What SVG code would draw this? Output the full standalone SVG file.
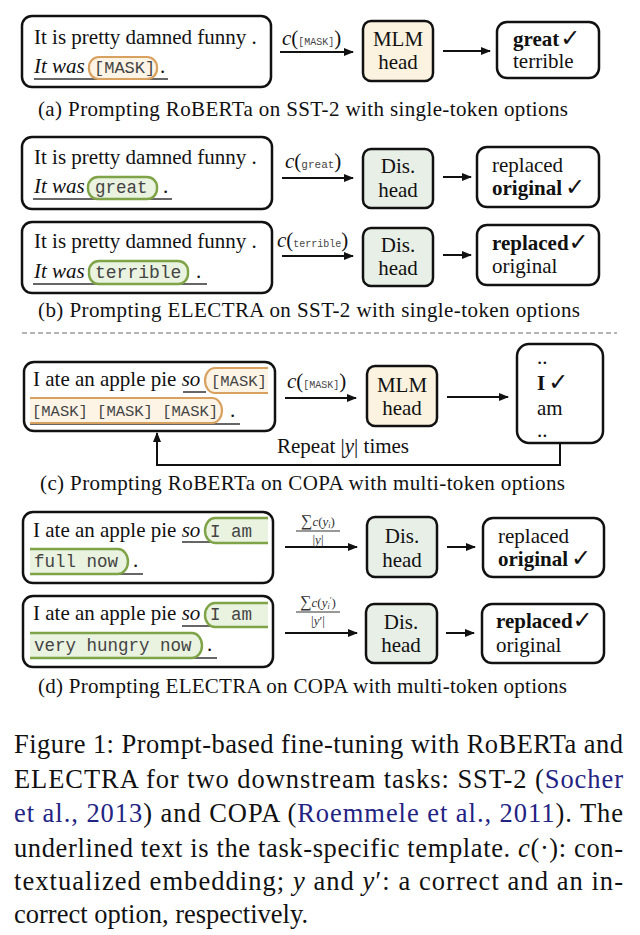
<svg xmlns="http://www.w3.org/2000/svg" width="640" height="935" viewBox="0 0 640 935">
<defs>
<marker id="ah" markerWidth="10" markerHeight="8" refX="9" refY="4" orient="auto" markerUnits="userSpaceOnUse">
<path d="M0,0 L10,4 L0,8 z" fill="#111"/>
</marker>
<style>
.t{font-family:"Liberation Serif",serif;font-size:21px;fill:#111}
.i{font-style:italic}
.b{font-weight:bold}
.m{font-family:"Liberation Mono",monospace;fill:#444}
.chk{font-family:"DejaVu Sans",sans-serif;font-weight:normal;font-size:24px}
.box{fill:#fff;stroke:#111;stroke-width:2.5}
.mlm{fill:#fbf3df;stroke:#111;stroke-width:2.5}
.dis{fill:#e8efe6;stroke:#111;stroke-width:2.5}
.po{fill:#fdf4e6;stroke:#d9a160;stroke-width:2.2}
.pg{fill:#eaf2e0;stroke:#7ea447;stroke-width:2.4}
.ul{stroke:#333;stroke-width:1.5;fill:none}
.arr{stroke:#111;stroke-width:2;fill:none;marker-end:url(#ah)}
.fr{font-family:"Liberation Serif",serif;font-size:13px;fill:#333}
.cap{font-family:"Liberation Serif",serif;font-size:26.5px;fill:#111}
.cite{fill:#232383}
</style>
</defs>
<rect width="640" height="935" fill="#fff"/>

<!-- Panel (a) -->
<g id="a-input">
<rect class="box" x="22" y="16" width="249" height="71" rx="10"/>
<text class="t" x="34" y="44">It is pretty damned funny .</text>
<line class="ul" x1="34" y1="79" x2="168" y2="79"/>
<rect class="po" x="89" y="57" width="68" height="22" rx="10"/>
<text class="t i" x="34" y="73">It was</text>
<text class="m" x="94" y="73" font-size="17">[MASK]</text>
<text class="t" x="160" y="73">.</text>
</g>
<g id="a-mlm">
<rect class="mlm" x="363" y="21" width="70" height="60" rx="8"/>
<text class="t" x="398" y="46" text-anchor="middle">MLM</text>
<text class="t" x="398" y="69" text-anchor="middle">head</text>
</g>
<g id="a-out">
<rect class="box" x="497" y="22" width="102" height="56" rx="10"/>
<text class="t" x="513" y="46"><tspan class="b">great</tspan><tspan class="chk" dx="1">✓</tspan></text>
<text class="t" x="513" y="68">terrible</text>
</g>
<text class="t" x="38" y="116" textLength="530">(a) Prompting RoBERTa on SST-2 with single-token options</text>

<!-- Panel (b) -->
<g id="b-input1">
<rect class="box" x="22" y="137" width="250" height="72" rx="10"/>
<text class="t" x="34" y="164">It is pretty damned funny .</text>
<line class="ul" x1="33" y1="199" x2="172" y2="199"/>
<rect class="pg" x="88" y="177" width="69" height="22" rx="10"/>
<text class="t i" x="34" y="193">It was</text>
<text class="m" x="95" y="193" font-size="17.5">great</text>
<text class="t" x="163" y="193">.</text>
</g>
<g id="b-dis1">
<rect class="dis" x="363" y="149" width="70" height="59" rx="8"/>
<text class="t" x="398" y="173" text-anchor="middle">Dis.</text>
<text class="t" x="398" y="197" text-anchor="middle">head</text>
</g>
<g id="b-out1">
<rect class="box" x="477" y="147" width="122" height="60" rx="10"/>
<text class="t" x="492" y="172">replaced</text>
<text class="t" x="492" y="195"><tspan class="b">original</tspan><tspan class="chk" dx="3">✓</tspan></text>
</g>
<g id="b-input2">
<rect class="box" x="22" y="222" width="250" height="71" rx="10"/>
<text class="t" x="34" y="248">It is pretty damned funny .</text>
<line class="ul" x1="33" y1="284" x2="207" y2="284"/>
<rect class="pg" x="89" y="261" width="99" height="23" rx="10"/>
<text class="t i" x="34" y="278">It was</text>
<text class="m" x="95" y="278" font-size="18">terrible</text>
<text class="t" x="196" y="278">.</text>
</g>
<g id="b-dis2">
<rect class="dis" x="363" y="228" width="70" height="58" rx="8"/>
<text class="t" x="398" y="252" text-anchor="middle">Dis.</text>
<text class="t" x="398" y="275" text-anchor="middle">head</text>
</g>
<g id="b-out2">
<rect class="box" x="477" y="225" width="122" height="60" rx="10"/>
<text class="t" x="492" y="250"><tspan class="b">replaced</tspan><tspan class="chk" dx="0">✓</tspan></text>
<text class="t" x="492" y="273">original</text>
</g>
<text class="t" x="38" y="317" textLength="542">(b) Prompting ELECTRA on SST-2 with single-token options</text>

<line x1="22" y1="333" x2="617" y2="333" stroke="#9a9a9a" stroke-width="1.5" stroke-dasharray="5 3"/>

<!-- Panel (c) -->
<g id="c-input">
<rect class="box" x="24" y="362" width="251" height="69" rx="10"/>
<line class="ul" x1="183" y1="392" x2="206" y2="392"/>
<line class="ul" x1="30" y1="424" x2="240" y2="424"/>
<path class="po" d="M268,368 H215 a10,12.5 0 0 0 0,25 H268"/>
<path class="po" d="M30,398 H212 a10,12.5 0 0 1 0,25 H30"/>
<text class="t" x="33" y="386">I ate an apple pie <tspan class="i">so</tspan></text>
<text class="m" x="211" y="386" font-size="15.5">[MASK]</text>
<text class="m" x="32" y="416" font-size="15.5">[MASK] [MASK] [MASK]</text>
<text class="t" x="230" y="417">.</text>
</g>
<g id="c-mlm">
<rect class="mlm" x="367" y="366" width="70" height="60" rx="8"/>
<text class="t" x="402" y="392" text-anchor="middle">MLM</text>
<text class="t" x="402" y="415" text-anchor="middle">head</text>
</g>
<g id="c-out">
<rect class="box" x="517" y="344" width="86" height="99" rx="12"/>
<text class="t" x="537" y="364">..</text>
<text class="t" x="537" y="390"><tspan class="b">I</tspan><tspan class="chk" dx="3">✓</tspan></text>
<text class="t" x="537" y="415">am</text>
<text class="t" x="537" y="437">..</text>
</g>
<text class="t" x="40" y="490" textLength="525">(c) Prompting RoBERTa on COPA with multi-token options</text>

<!-- Panel (d) -->
<g id="d-input1">
<rect class="box" x="23" y="512" width="250" height="71" rx="10"/>
<line class="ul" x1="182" y1="542" x2="268" y2="542"/>
<line class="ul" x1="32" y1="574" x2="143" y2="574"/>
<path class="pg" d="M268,518 H215 a10,12.5 0 0 0 0,25 H268"/>
<path class="pg" d="M30,549 H118 a10,12.5 0 0 1 0,25 H30"/>
<text class="t" x="33" y="537">I ate an apple pie <tspan class="i">so</tspan></text>
<text class="m" x="210" y="537" font-size="17.5">I am</text>
<text class="m" x="34" y="567" font-size="17.5">full now</text>
<text class="t" x="133" y="567">.</text>
</g>
<g id="d-dis1">
<rect class="dis" x="367" y="517" width="70" height="60" rx="8"/>
<text class="t" x="402" y="543" text-anchor="middle">Dis.</text>
<text class="t" x="402" y="567" text-anchor="middle">head</text>
</g>
<g id="d-out1">
<rect class="box" x="483" y="518" width="121" height="59" rx="10"/>
<text class="t" x="498" y="543">replaced</text>
<text class="t" x="498" y="566"><tspan class="b">original</tspan><tspan class="chk" dx="3">✓</tspan></text>
</g>
<g id="d-input2">
<rect class="box" x="23" y="596" width="250" height="71" rx="10"/>
<line class="ul" x1="182" y1="626" x2="268" y2="626"/>
<line class="ul" x1="32" y1="658" x2="217" y2="658"/>
<path class="pg" d="M268,603 H215 a10,12 0 0 0 0,24 H268"/>
<path class="pg" d="M30,633 H192 a10,12.5 0 0 1 0,25 H30"/>
<text class="t" x="33" y="620">I ate an apple pie <tspan class="i">so</tspan></text>
<text class="m" x="210" y="620" font-size="17.5">I am</text>
<text class="m" x="34" y="651" font-size="17.5">very hungry now</text>
<text class="t" x="207" y="651">.</text>
</g>
<g id="d-dis2">
<rect class="dis" x="366" y="604" width="71" height="59" rx="8"/>
<text class="t" x="401" y="629" text-anchor="middle">Dis.</text>
<text class="t" x="401" y="652" text-anchor="middle">head</text>
</g>
<g id="d-out2">
<rect class="box" x="482" y="604" width="122" height="59" rx="10"/>
<text class="t" x="496" y="628"><tspan class="b">replaced</tspan><tspan class="chk" dx="0">✓</tspan></text>
<text class="t" x="496" y="652">original</text>
</g>
<text class="t" x="38" y="693" textLength="529">(d) Prompting ELECTRA on COPA with multi-token options</text>

<!-- Connectors -->
<g id="connectors">
<line class="arr" x1="280" y1="52" x2="353" y2="52"/>
<text class="t" x="282" y="45"><tspan class="i">c</tspan>(<tspan class="m" font-size="10">[MASK]</tspan>)</text>
<line class="arr" x1="443" y1="51" x2="490" y2="51"/>

<line class="arr" x1="282" y1="178" x2="353" y2="178"/>
<text class="t" x="285" y="168"><tspan class="i">c</tspan>(<tspan class="m" font-size="11">great</tspan>)</text>
<line class="arr" x1="443" y1="177" x2="471" y2="177"/>

<line class="arr" x1="282" y1="256" x2="353" y2="256"/>
<text class="t" x="277" y="247"><tspan class="i">c</tspan>(<tspan class="m" font-size="10">terrible</tspan>)</text>
<line class="arr" x1="443" y1="255" x2="471" y2="255"/>

<line class="arr" x1="285" y1="398" x2="356" y2="398"/>
<text class="t" x="287" y="388"><tspan class="i">c</tspan>(<tspan class="m" font-size="10">[MASK]</tspan>)</text>
<line class="arr" x1="447" y1="397" x2="508" y2="397"/>
<polyline class="arr" points="560,443 560,465 157,465 157,433"/>
<text class="t" x="277" y="453">Repeat |<tspan class="i">y</tspan>| times</text>

<line class="arr" x1="285" y1="547" x2="357" y2="547"/>
<text class="fr" x="318" y="526" text-anchor="middle"><tspan font-size="16">∑</tspan><tspan class="i">c</tspan>(<tspan class="i">y</tspan><tspan class="i" font-size="8" dy="2">i</tspan><tspan dy="-2">)</tspan></text>
<line x1="296" y1="531" x2="340" y2="531" stroke="#333" stroke-width="1"/>
<text class="fr" x="318" y="544" text-anchor="middle">|<tspan class="i">y</tspan>|</text>
<line class="arr" x1="447" y1="547" x2="475" y2="547"/>

<line class="arr" x1="285" y1="633" x2="357" y2="633"/>
<text class="fr" x="318" y="607" text-anchor="middle"><tspan font-size="16">∑</tspan><tspan class="i">c</tspan>(<tspan class="i">y</tspan><tspan class="i" font-size="8" dy="2">i</tspan><tspan font-size="8" dy="-6">′</tspan><tspan dy="4">)</tspan></text>
<line x1="296" y1="612" x2="340" y2="612" stroke="#333" stroke-width="1"/>
<text class="fr" x="318" y="625" text-anchor="middle">|<tspan class="i">y</tspan>′|</text>
<line class="arr" x1="446" y1="633" x2="474" y2="633"/>
</g>

<!-- Figure caption -->
<g id="caption">
<text class="cap" x="14" y="753" textLength="609" lengthAdjust="spacing">Figure 1: Prompt-based fine-tuning with RoBERTa and</text>
<text class="cap" x="14" y="788" textLength="609" lengthAdjust="spacing">ELECTRA for two downstream tasks: SST-2 (<tspan class="cite">Socher</tspan></text>
<text class="cap" x="14" y="822" textLength="609" lengthAdjust="spacing"><tspan class="cite">et al., 2013</tspan>) and COPA (<tspan class="cite">Roemmele et al., 2011</tspan>). The</text>
<text class="cap" x="14" y="857" textLength="609" lengthAdjust="spacing">underlined text is the task-specific template. <tspan class="i">c</tspan>(·): con-</text>
<text class="cap" x="14" y="890" textLength="609" lengthAdjust="spacing">textualized embedding; <tspan class="i">y</tspan> and <tspan class="i">y</tspan>′: a correct and an in-</text>
<text class="cap" x="14" y="923">correct option, respectively.</text>
</g>
</svg>
